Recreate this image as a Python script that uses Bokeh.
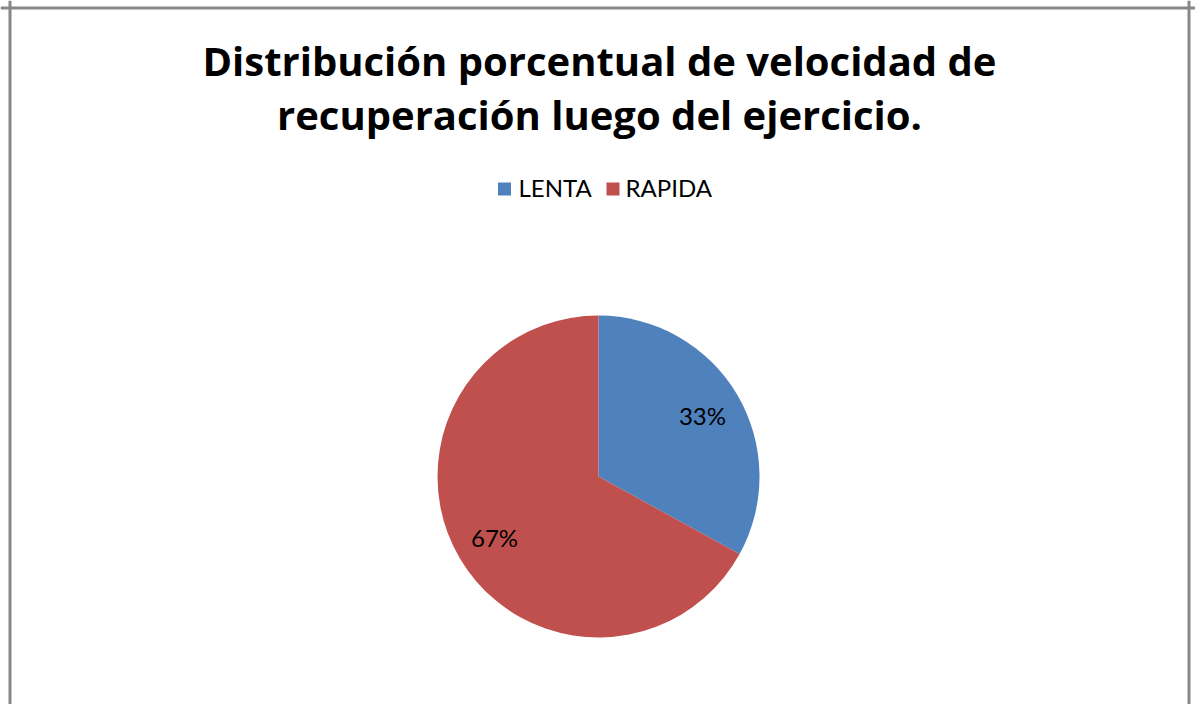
import numpy as np
import pandas as pd
from bokeh.plotting import figure
from bokeh.models import ColumnDataSource, Span
from bokeh.core.properties import value
from bokeh.embed import file_html
from bokeh.resources import INLINE

# ---- data ----
categories = ["LENTA", "RAPIDA"]
percentages = [33, 67]
colors = ["#4F81BD", "#C0504D"]
title_lines = ["Distribución porcentual de velocidad de",
               "recuperación luego del ejercicio."]

# ---- layout (pixel-like data space) ----
W, H = 1195, 704
cx, cy, r = 598, 228, 161

df = pd.DataFrame({"cat": categories, "pct": percentages, "color": colors})
df["angle"] = df["pct"] / df["pct"].sum() * 2 * np.pi
cum = df["angle"].cumsum()
df["start"] = np.pi / 2 - (cum - df["angle"])
df["end"] = np.pi / 2 - cum
mid = (df["start"] + df["end"]) / 2
df["lx"] = cx + 0.75 * r * np.cos(mid)
df["ly"] = cy + 0.75 * r * np.sin(mid)
df["label"] = [f"{v}%" for v in df["pct"]]
src = ColumnDataSource(df)

p = figure(width=W, height=H, x_range=(0, W), y_range=(0, H),
           output_backend="svg", toolbar_location=None, min_border=0,
           x_axis_location=None, y_axis_location=None)
p.grid.visible = False
p.outline_line_color = None
p.background_fill_color = "white"
p.border_fill_color = "white"

# border of chart area
for loc in [9.5, 1188.5]:
    p.add_layout(Span(location=loc, dimension="height", line_color="#888888", line_width=3))
p.add_layout(Span(location=696.5, dimension="width", line_color="#888888", line_width=3))

# pie
p.wedge(x=cx, y=cy, radius=r, start_angle="start", end_angle="end",
        direction="clock", fill_color="color", line_color=None, source=src)
p.text(x="lx", y="ly", text="label", source=src, text_align="center",
       text_baseline="middle", text_font=value("Lato"), text_font_size="24px",
       text_color="#000000")

# title
p.text(x=[599, 599], y=[644, 590], text=title_lines, text_align="center",
       text_baseline="alphabetic", text_font=value("Open Sans"),
       text_font_style="bold", text_font_size="40px", text_color="#000000")

# legend (manual)
leg_sq_x = [504, 612.5]
leg_tx_x = [518, 625]
p.rect(x=leg_sq_x, y=[515.5, 515.5], width=13, height=13,
       fill_color=colors, line_color=None)
p.text(x=leg_tx_x, y=[517, 517], text=categories, text_align="left",
       text_baseline="alphabetic", text_font=value("Lato"),
       text_font_size="24px", text_color="#000000")

open("out.html", "w").write(file_html(p, INLINE))
